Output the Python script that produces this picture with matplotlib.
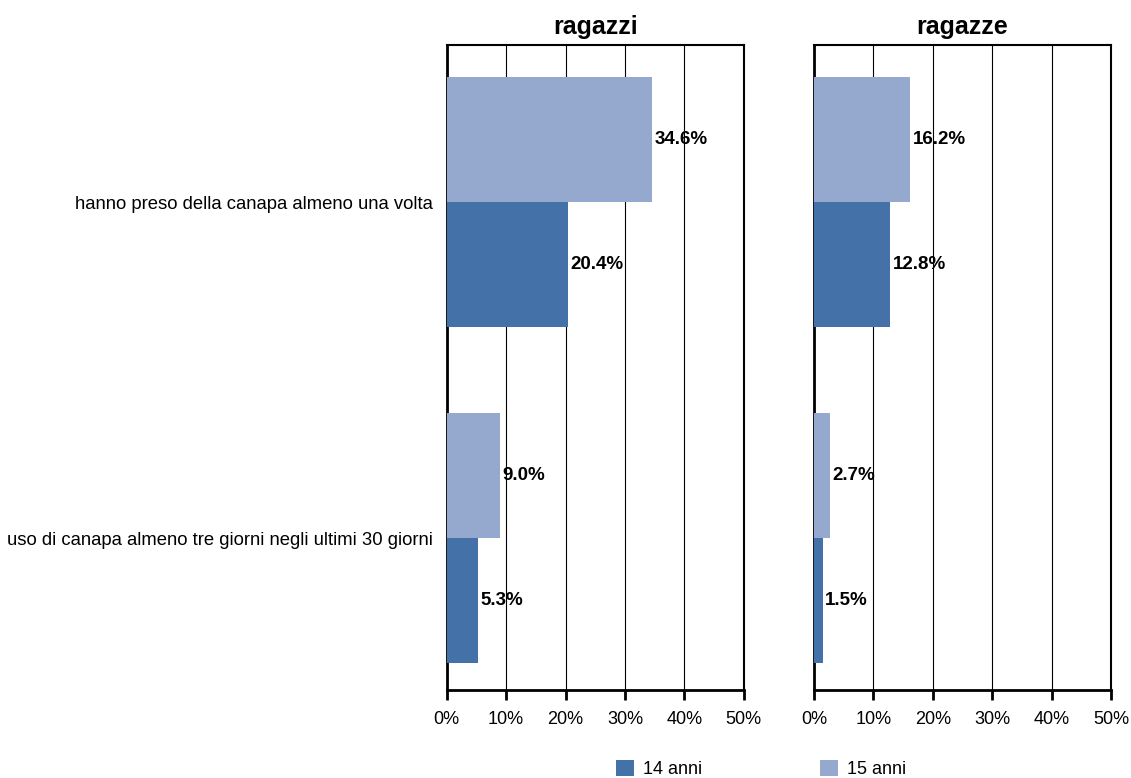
import numpy as np
import matplotlib.pyplot as plt

plt.rcParams['font.family'] = ['Liberation Sans', 'DejaVu Sans']

categories = ["hanno preso della canapa almeno una volta",
              "uso di canapa almeno tre giorni negli ultimi 30 giorni"]
panels = ["ragazzi", "ragazze"]
series = ["14 anni", "15 anni"]
values_14 = {"ragazzi": [20.4, 5.3], "ragazze": [12.8, 1.5]}
values_15 = {"ragazzi": [34.6, 9.0], "ragazze": [16.2, 2.7]}
colors = {"14 anni": "#4472a8", "15 anni": "#95a9cf"}

fig = plt.figure(figsize=(11.31, 7.78), dpi=100)
axes = [fig.add_axes([0.395, 0.113, 0.2626, 0.829]),
        fig.add_axes([0.7197, 0.113, 0.2626, 0.829])]

y = np.arange(len(categories))
h = 0.372

for ax, panel in zip(axes, panels):
    b14 = ax.barh(y + h / 2, values_14[panel], height=h, color=colors["14 anni"],
                  label="14 anni", zorder=3)
    b15 = ax.barh(y - h / 2, values_15[panel], height=h, color=colors["15 anni"],
                  label="15 anni", zorder=3)
    for bars in (b14, b15):
        for rect in bars:
            w = rect.get_width()
            ax.text(w + 0.4, rect.get_y() + rect.get_height() / 2, "%.1f%%" % w,
                    va='center', ha='left', fontsize=13.5, fontweight='bold', zorder=4)
    ax.set_xlim(0, 50)
    ax.set_ylim(1.452, -0.467)
    ax.set_xticks(np.arange(0, 51, 10))
    ax.set_xticklabels(["%d%%" % t for t in range(0, 51, 10)], fontsize=13)
    ax.xaxis.grid(True, color='black', linewidth=0.8, zorder=0)
    ax.tick_params(axis='x', direction='out', length=7, width=2, pad=8)
    ax.tick_params(axis='y', length=0)
    for s in ax.spines.values():
        s.set_linewidth(1.5)
        s.set_color('black')
    ax.spines['left'].set_linewidth(2)
    ax.spines['bottom'].set_linewidth(2)
    ax.set_title(panel, fontsize=18, fontweight='bold', pad=8)

axes[0].set_yticks(y)
axes[0].set_yticklabels(categories, fontsize=13.3)
axes[0].tick_params(axis='y', pad=10)
axes[1].set_yticks([])

handles, labels = axes[0].get_legend_handles_labels()
fig.legend(handles, labels, loc='center', bbox_to_anchor=(0.673, 0.012), ncol=2,
           frameon=False, fontsize=13, handlelength=1.0, handleheight=1.0,
           columnspacing=6.5, handletextpad=0.5)

fig.savefig("out.png", dpi=100)
